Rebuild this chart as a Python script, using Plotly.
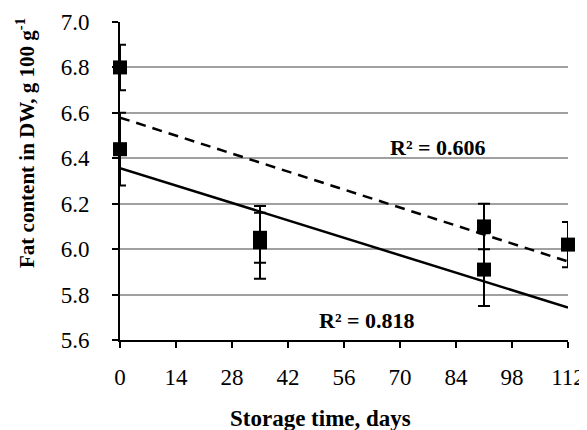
import numpy as np
import plotly.graph_objects as go

# Data
days_a = [0, 35, 91, 112]
fat_a = [6.80, 6.05, 6.10, 6.02]
err_a = [0.10, 0.11, 0.10, 0.10]

days_b = [0, 35, 91]
fat_b = [6.44, 6.03, 5.91]
err_b = [0.16, 0.16, 0.16]

x_ticks = [0, 14, 28, 42, 56, 70, 84, 98, 112]
y_ticks = [5.6, 5.8, 6.0, 6.2, 6.4, 6.6, 6.8, 7.0]
r2_a = "R² = 0.606"
r2_b = "R² = 0.818"

FONT = "Liberation Serif, Times New Roman, serif"

fig = go.Figure()

# trendlines (linear fits over the axis span)
xr = np.array([0, 112])
ka, ba = np.polyfit(days_a, fat_a, 1)
kb, bb = np.polyfit(days_b, fat_b, 1)
fig.add_trace(go.Scatter(x=xr, y=ka * xr + ba, mode="lines",
                         line=dict(color="black", width=2.5, dash="10px,7px"),
                         hoverinfo="skip"))
fig.add_trace(go.Scatter(x=xr, y=kb * xr + bb, mode="lines",
                         line=dict(color="black", width=2.5),
                         hoverinfo="skip"))

for xs, ys, es in [(days_a, fat_a, err_a), (days_b, fat_b, err_b)]:
    fig.add_trace(go.Scatter(
        x=xs, y=ys, mode="markers", cliponaxis=False,
        marker=dict(symbol="square", size=14, color="black"),
        error_y=dict(type="data", array=es, visible=True, color="black",
                     thickness=2, width=6),
    ))

fig.update_layout(
    template="none",
    width=579, height=422,
    margin=dict(l=112, r=19, t=14, b=90),
    plot_bgcolor="white", paper_bgcolor="white",
    showlegend=False,
    font=dict(family=FONT, size=23, color="black"),
    xaxis=dict(range=[0, 112], tickvals=x_ticks, ticktext=[str(v) for v in x_ticks],
               automargin=False,
               showgrid=False, zeroline=False, showline=True, linecolor="black",
               linewidth=2, ticks="outside", ticklen=6, tickwidth=2, tickcolor="black",
               ticklabelstandoff=9),
    yaxis=dict(range=[5.6, 7.0], tickvals=y_ticks, ticktext=[f"{v:.1f}" for v in y_ticks],
               automargin=False,
               showgrid=True, gridcolor="#a0a0a0", gridwidth=1.5, zeroline=False,
               showline=True, linecolor="black", linewidth=2, ticks="outside",
               ticklen=6, tickwidth=2, tickcolor="black", ticklabelstandoff=18),
    annotations=[
        dict(text="<b>Storage time, days</b>", xref="paper", yref="paper",
             x=(320 - 120) / 448, y=-(418 - 340) / 318, xanchor="center", yanchor="middle",
             showarrow=False, font=dict(size=23)),
        dict(text="<b>Fat content in DW, g 100 g<sup>-1</sup></b>", xref="paper", yref="paper",
             x=-(120 - 25) / 448, y=(340 - 143) / 318, xanchor="center", yanchor="middle",
             textangle=-90, showarrow=False, font=dict(size=21)),
        dict(text=f"<b>{r2_a}</b>", x=79.5, y=6.447, xanchor="center", yanchor="middle",
             showarrow=False, font=dict(size=22)),
        dict(text=f"<b>{r2_b}</b>", x=61.75, y=5.688, xanchor="center", yanchor="middle",
             showarrow=False, font=dict(size=22)),
    ],
)

fig.write_html("out.html")
